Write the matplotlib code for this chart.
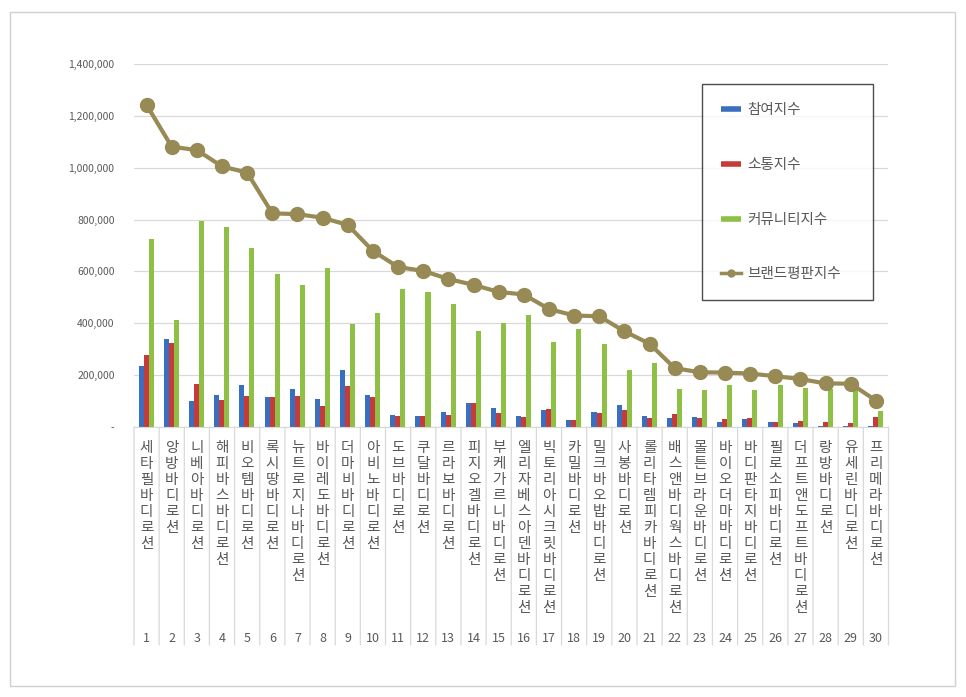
import matplotlib
matplotlib.use("Agg")
import matplotlib.pyplot as plt
from matplotlib.lines import Line2D
from matplotlib.patches import Rectangle
from matplotlib.ticker import FuncFormatter

plt.rcParams['font.family'] = ['Noto Sans CJK KR', 'DejaVu Sans']

ranks = [str(i) for i in range(1, 31)]
brands = ["세타필 바디로션", "앙방 바디로션", "니베아 바디로션", "해피바스 바디로션", "비오템 바디로션",
          "록시땅 바디로션", "뉴트로지나 바디로션", "바이레도 바디로션", "더마비 바디로션", "아비노 바디로션",
          "도브 바디로션", "쿠달 바디로션", "르라보 바디로션", "피지오겔 바디로션", "부케가르니 바디로션",
          "엘리자베스아덴 바디로션", "빅토리아시크릿 바디로션", "카밀 바디로션", "밀크바오밥 바디로션", "사봉 바디로션",
          "롤리타렘피카 바디로션", "배스앤바디웍스 바디로션", "몰튼브라운 바디로션", "바이오더마 바디로션", "바디판타지 바디로션",
          "필로소피 바디로션", "더프트앤도프트 바디로션", "랑방 바디로션", "유세린 바디로션", "프리메라 바디로션"]

participation = [237, 340, 102, 125, 163, 117, 148, 108, 221, 125, 46, 42, 57, 91, 72,
                 42, 64, 26, 57, 84, 42, 33, 37, 18, 30, 18, 14, 5, 5, 2]
communication = [279, 324, 167, 106, 121, 117, 121, 82, 160, 117, 42, 42, 46, 91, 53,
                 38, 68, 26, 53, 64, 33, 50, 34, 30, 34, 18, 22, 18, 14, 37]
community = [724, 412, 795, 772, 690, 591, 548, 613, 399, 440, 532, 520, 474, 370, 402,
             431, 327, 377, 319, 219, 248, 146, 141, 161, 141, 161, 149, 145, 145, 61]
brand_index = [1242, 1081, 1068, 1005, 981, 824, 821, 807, 779, 679, 617, 602, 571, 548, 521,
               511, 455, 430, 427, 369, 321, 227, 211, 210, 206, 196, 185, 168, 167, 102]

series_names = ["참여지수", "소통지수", "커뮤니티지수", "브랜드평판지수"]
c_blue, c_red, c_green, c_line = "#3A6FC0", "#C63A3A", "#8DC044", "#978A55"
txt = "#595959"
grid_c = "#D9D9D9"

W, H = 966, 697
fig = plt.figure(figsize=(W / 100, H / 100), dpi=100)
fig.patches.append(Rectangle((10 / W, 1 - 686 / H), 945 / W, 674 / H, transform=fig.transFigure,
                             fill=False, edgecolor="#D0D0D0", linewidth=1))

ax = fig.add_axes([134 / W, 1 - 427 / H, 754.5 / W, 363 / H])
n = len(brands)
x = list(range(n))
scale = 1000
bw = 0.2
ax.bar([i - 0.21 for i in x], [v * scale for v in participation], width=bw, color=c_blue, zorder=2)
ax.bar([i - 0.01 for i in x], [v * scale for v in communication], width=bw, color=c_red, zorder=2)
ax.bar([i + 0.19 for i in x], [v * scale for v in community], width=bw, color=c_green, zorder=2)
ax.plot(x, [v * scale for v in brand_index], color=c_line, linewidth=3, marker="o",
        markersize=10, zorder=3, solid_capstyle="round")

ax.set_xlim(-0.5, n - 0.5)
ax.set_ylim(0, 1400000)
ax.set_yticks(range(0, 1400001, 200000))
ax.yaxis.set_major_formatter(FuncFormatter(lambda v, p: "-" if v == 0 else f"{int(v):,}"))
ax.tick_params(axis="y", length=0, pad=14, labelsize=7.5, labelcolor=txt)
ax.grid(axis="y", color=grid_c, linewidth=0.9, zorder=0)
ax.set_xticks([])
for s in ["left", "right", "top"]:
    ax.spines[s].set_visible(False)
ax.spines["bottom"].set_color(grid_c)

# category separators and labels
tr = ax.get_xaxis_transform()
for k in range(n + 1):
    ax.annotate("", xy=(k - 0.5, 0), xycoords=tr, xytext=(k - 0.5, -218 / 363), textcoords=tr,
                arrowprops=dict(arrowstyle="-", color=grid_c, linewidth=0.9, shrinkA=0, shrinkB=0),
                annotation_clip=False)
for i, name in enumerate(brands):
    chars = [c for c in name if c != " "]
    for j, ch in enumerate(chars):
        ax.annotate(ch, xy=(i, 0), xycoords=tr, xytext=(0, -21 - 16 * j), textcoords="offset pixels",
                    ha="center", va="center", fontsize=10.5, color=txt, annotation_clip=False)
    ax.annotate(ranks[i], xy=(i, 0), xycoords=tr, xytext=(0, -211), textcoords="offset pixels",
                ha="center", va="center", fontsize=9, color=txt, annotation_clip=False)

handles = [Line2D([], [], color=c_blue, linewidth=4, solid_capstyle="butt"),
           Line2D([], [], color=c_red, linewidth=4, solid_capstyle="butt"),
           Line2D([], [], color=c_green, linewidth=4, solid_capstyle="butt"),
           Line2D([], [], color=c_line, linewidth=2.5, marker="o", markersize=5)]
leg = fig.legend(handles, series_names, loc="upper left",
                 bbox_to_anchor=(702 / W, 1 - 91 / H, 171 / W, 0.01), mode="expand",
                 fontsize=10.5, labelspacing=2.8, borderpad=1.3, handlelength=1.4,
                 handletextpad=0.4, frameon=True, fancybox=False, borderaxespad=0)
leg.get_frame().set_edgecolor("#202020")
leg.get_frame().set_linewidth(1.0)
for t in leg.get_texts():
    t.set_color(txt)

fig.savefig("out.png", dpi=100)
